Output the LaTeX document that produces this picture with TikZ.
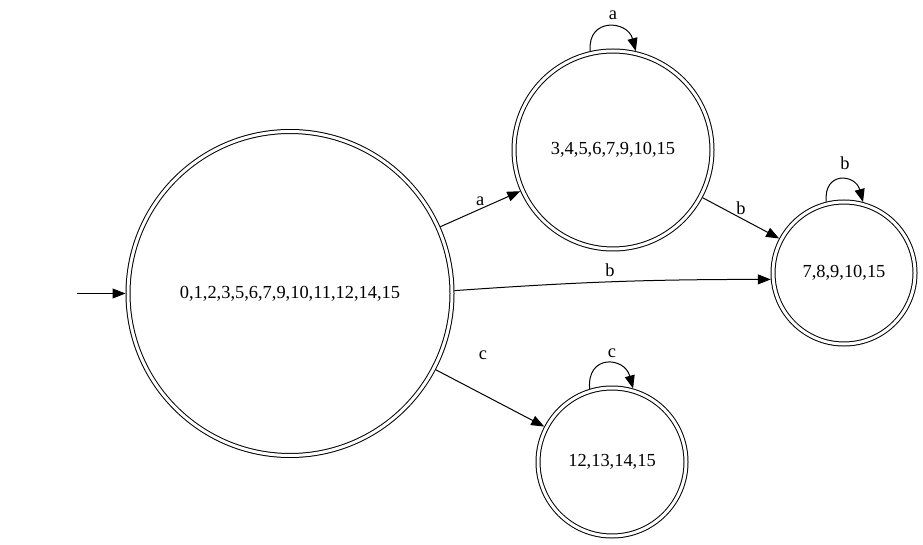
\documentclass[tikz,border=0pt]{standalone}
\usepackage{fontspec}
\setmainfont{Liberation Serif}
\usetikzlibrary{arrows.meta}
\begin{document}
\begin{tikzpicture}[x=1pt,y=1pt,
  txt/.style={font=\fontsize{18.4}{22}\selectfont},
  state/.style={circle, draw, line width=1pt, double, double distance=3pt,
    outer sep=2.5pt, inner sep=0pt, txt},
  edge/.style={-{Triangle[length=13pt,width=10pt]}, line width=1pt},
  lbl/.style={txt, inner sep=0pt}]
\useasboundingbox (0,0) rectangle (923,544);

% states
\node[state, minimum size=324pt] (A) at (290,250.5) {0,1,2,3,5,6,7,9,10,11,12,14,15};
\node[state, minimum size=198pt] (B) at (613,394) {3,4,5,6,7,9,10,15};
\node[state, minimum size=142pt] (C) at (844,271) {7,8,9,10,15};
\node[state, minimum size=148pt] (D) at (612,82) {12,13,14,15};

% start arrow
\coordinate (start) at (77,250.5);
\draw[edge] (start) -- (A);

% transitions
\draw[edge] (A) -- (B) node[lbl, pos=0.5, above=3pt] (la) {a};
\draw[edge] (A.1) to[bend left=2] (C.185);
\node[lbl] (lb1) at (610,274) {b};
\draw[edge] (B) -- (C);
\node[lbl] (lb2) at (741,336) {b};
\draw[edge] (A) -- (D);
\node[lbl] (lc) at (483,189) {c};

% self loops
\draw[edge] (B.103) .. controls +(95:34) and +(105:32) .. (B.77);
\node[lbl] (lla) at (613,529) {a};
\draw[edge] (C.104) .. controls +(95:31) and +(105:29) .. (C.75);
\node[lbl] (llb) at (845,381) {b};
\draw[edge] (D.107) .. controls +(95:35) and +(105:33) .. (D.74);
\node[lbl] (llc) at (612,191) {c};
\end{tikzpicture}
\end{document}
